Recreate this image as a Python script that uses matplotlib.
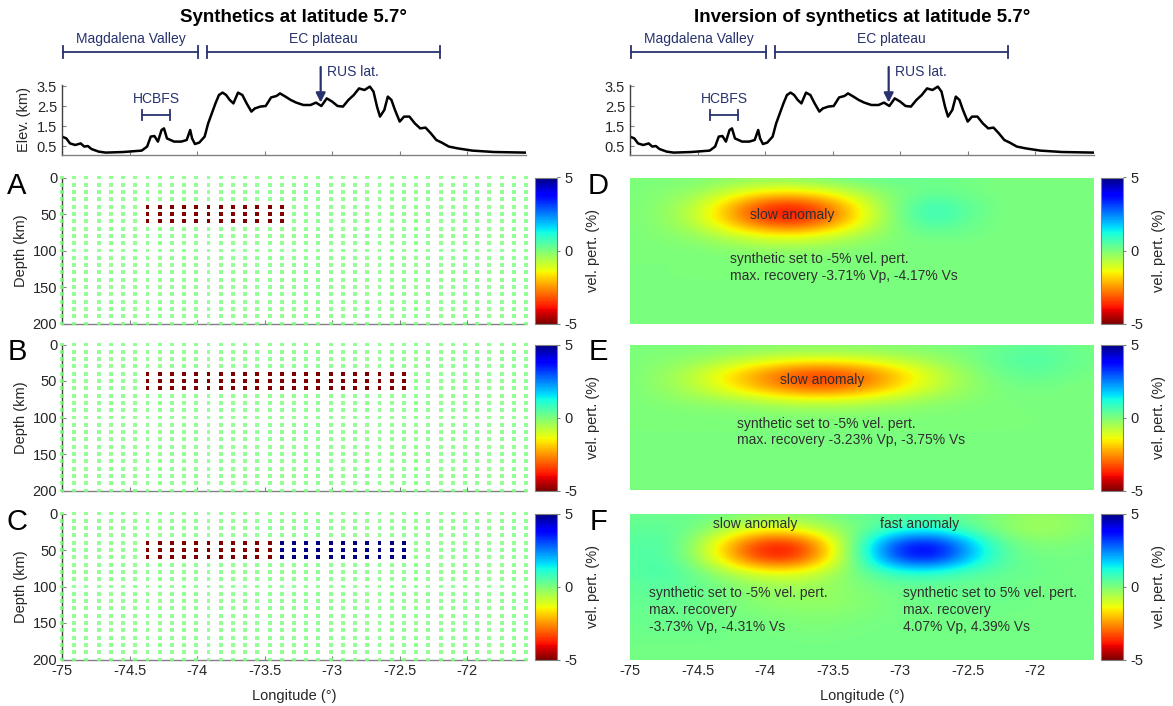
import numpy as np
import matplotlib
matplotlib.use("Agg")
import matplotlib.pyplot as plt
from matplotlib.colors import Normalize
from matplotlib.cm import ScalarMappable

plt.rcParams['font.family'] = ['Liberation Sans', 'DejaVu Sans']
plt.rcParams['font.size'] = 10.5

# ---------------- data ----------------
titles = ["Synthetics at latitude 5.7°", "Inversion of synthetics at latitude 5.7°"]

# topography profile (longitude, elevation in km)
elev_lon = [-75.000, -74.968, -74.941, -74.902, -74.862, -74.835, -74.809, -74.782,
            -74.729, -74.676, -74.543, -74.410, -74.370, -74.343, -74.316, -74.290,
            -74.263, -74.245, -74.223, -74.170, -74.117, -74.077, -74.051, -74.037,
            -74.016, -73.984, -73.944, -73.918, -73.891, -73.864, -73.838, -73.811,
            -73.785, -73.758, -73.731, -73.697, -73.665, -73.633, -73.598, -73.572,
            -73.532, -73.492, -73.452, -73.412, -73.386, -73.346, -73.306, -73.266,
            -73.213, -73.160, -73.120, -73.080, -73.040, -73.000, -72.960, -72.920,
            -72.880, -72.840, -72.801, -72.761, -72.721, -72.694, -72.668, -72.646,
            -72.614, -72.588, -72.561, -72.535, -72.500, -72.468, -72.428, -72.388,
            -72.348, -72.309, -72.269, -72.229, -72.189, -72.136, -72.069, -71.963,
            -71.803, -71.569]
elev_km = [0.97, 0.88, 0.63, 0.55, 0.63, 0.47, 0.50, 0.35,
           0.22, 0.17, 0.20, 0.27, 0.47, 0.97, 1.00, 0.72,
           1.30, 1.38, 0.88, 0.72, 0.72, 0.80, 1.30, 0.88,
           0.60, 0.67, 0.97, 1.63, 2.13, 2.63, 3.05, 3.17,
           3.05, 2.80, 2.63, 3.17, 3.05, 2.63, 2.22, 2.38,
           2.47, 2.50, 2.93, 3.00, 3.13, 2.97, 2.80, 2.67,
           2.55, 2.55, 2.67, 2.50, 2.88, 2.72, 2.50, 2.47,
           2.80, 3.05, 3.38, 3.30, 3.47, 3.22, 2.47, 1.97,
           2.30, 2.97, 2.80, 2.30, 1.72, 1.97, 1.97, 1.63,
           1.38, 1.42, 1.13, 0.80, 0.67, 0.47, 0.38, 0.27,
           0.20, 0.17]

region_names = ["Magdalena Valley", "EC plateau"]
region_start = [-74.99, -73.93]
region_end = [-73.99, -72.20]
hcbfs_start, hcbfs_end = -74.41, -74.20
rus_lon = -73.085

lon_ticks = [-75, -74.5, -74, -73.5, -73, -72.5, -72]
lon_tick_labels = ["-75", "-74.5", "-74", "-73.5", "-73", "-72.5", "-72"]
depth_ticks = [0, 50, 100, 150, 200]
elev_ticks = [0.5, 1.5, 2.5, 3.5]

# synthetic checkerboard nodes (10 km spacing)
syn_lon_step = 0.0904
syn_n_lon = 39
syn_depths = list(range(0, 201, 10))
anomaly_depths = [40, 50, 60]
slow_cols = [(7, 18), (7, 28), (7, 17)]      # node index ranges of -5 % nodes
fast_cols = [None, None, (18, 28)]           # node index ranges of +5 % nodes
synthetic_amp = 5

# recovered models (vel. pert. %) on a coarse grid
rec_lon = [-75, -74.75, -74.5, -74.25, -74, -73.75, -73.5, -73.25, -73, -72.75,
           -72.5, -72.25, -72, -71.75, -71.5]
rec_depth = [0, 20, 40, 60, 80, 100, 120, 140, 160, 180, 200]
rec_D = [
    [0, 0, 0, -0.1, -0.1, 0, 0.2, 0.3, 0.3, 0.2, 0.1, 0, 0, 0, 0],
    [0, -0.1, -0.3, -0.9, -1.4, -1.5, -1.1, -0.4, 0, 0.2, 0.1, 0, 0, 0, 0],
    [0, -0.2, -0.9, -2.3, -3.8, -4.0, -2.9, -1.2, 0.2, 0.9, 0.4, 0, 0, 0, 0],
    [0, -0.2, -0.9, -2.2, -3.6, -3.9, -2.8, -1.2, 0.1, 0.8, 0.3, 0, 0, 0, 0],
    [0, -0.1, -0.3, -0.8, -1.2, -1.3, -0.9, -0.4, 0, 0.1, 0.1, 0, 0, 0, 0],
    [0, 0, 0, -0.1, -0.2, -0.2, -0.1, 0, 0, 0, 0, 0, 0, 0, 0],
    [0] * 15, [0] * 15, [0] * 15, [0] * 15, [0] * 15,
]
rec_E = [
    [0, 0, 0, 0, 0, 0, 0, 0, 0, 0, 0.1, 0.2, 0.3, 0.2, 0],
    [0, -0.1, -0.2, -0.5, -0.8, -1.0, -1.0, -0.9, -0.6, -0.3, 0, 0.4, 0.6, 0.3, 0.1],
    [0, -0.3, -0.9, -1.8, -2.7, -3.5, -3.6, -3.0, -2.0, -1.0, -0.3, 0.2, 0.4, 0.2, 0],
    [0, -0.3, -0.8, -1.6, -2.4, -3.1, -3.2, -2.6, -1.7, -0.9, -0.3, 0, 0.1, 0, 0],
    [0, -0.1, -0.2, -0.3, -0.5, -0.7, -0.7, -0.6, -0.4, -0.2, -0.1, 0, 0, 0, 0],
    [0] * 15, [0] * 15, [0] * 15, [0] * 15, [0] * 15, [0] * 15,
]
rec_F = [
    [0.2, 0.2, 0.2, 0.1, -0.1, -0.1, 0.1, 0.3, 0.4, 0.4, 0.2, -0.1, -0.3, -0.2, 0],
    [0.3, 0.4, 0.1, -0.7, -1.2, -1.1, -0.4, 0.2, 0.8, 0.9, 0.4, -0.2, -0.5, -0.3, 0],
    [0.4, 0.6, -0.4, -2.3, -3.9, -3.7, -1.5, 1.1, 3.5, 3.9, 2.1, 0.4, -0.1, 0, 0.1],
    [0.4, 0.6, -0.4, -2.3, -3.9, -3.7, -1.5, 1.1, 3.5, 3.9, 2.1, 0.5, 0.1, 0.1, 0.1],
    [0.4, 0.7, 0.2, -0.6, -1.2, -1.2, -0.5, 0.3, 0.9, 0.9, 0.5, 0.3, 0.2, 0.1, 0.1],
    [0.3, 0.4, 0.3, 0, -0.3, -0.4, -0.3, 0, 0.2, 0.2, 0.2, 0.2, 0.1, 0.1, 0.1],
    [0.3, 0.3, 0.2, 0, -0.2, -0.3, -0.3, -0.1, 0.1, 0.2, 0.2, 0.2, 0.1, 0.1, 0.1],
    [0.2, 0.2, 0.2, 0.1, 0, -0.1, -0.1, 0, 0.1, 0.1, 0.1, 0.1, 0.1, 0.1, 0.1],
    [0.2, 0.2, 0.2, 0.1, 0.1, 0, 0, 0.1, 0.1, 0.1, 0.1, 0.1, 0.1, 0.1, 0.1],
    [0.1] * 15, [0.1] * 15,
]

# annotations in recovered panels: (text, lon, depth, ha)
notes_D = [("slow anomaly", -73.80, 51, "center"),
           ("synthetic set to -5% vel. pert.\nmax. recovery -3.71% Vp, -4.17% Vs", -74.26, 123, "left")]
notes_E = [("slow anomaly", -73.58, 48, "center"),
           ("synthetic set to -5% vel. pert.\nmax. recovery -3.23% Vp, -3.75% Vs", -74.21, 120, "left")]
notes_F = [("slow anomaly", -74.07, 14, "center"),
           ("fast anomaly", -72.86, 14, "center"),
           ("synthetic set to -5% vel. pert.\nmax. recovery\n-3.73% Vp, -4.31% Vs", -74.86, 132, "left"),
           ("synthetic set to 5% vel. pert.\nmax. recovery\n4.07% Vp, 4.39% Vs", -72.98, 132, "left")]

# ---------------- figure ----------------
W, H = 1173, 706
fig = plt.figure(figsize=(W / 100, H / 100), dpi=100)


def px_axes(x0, y0, x1, y1):
    return fig.add_axes([x0 / W, 1 - y1 / H, (x1 - x0) / W, (y1 - y0) / H])


cmap = plt.get_cmap('jet_r')
norm = Normalize(vmin=-5, vmax=5)
navy = '#27326e'
spine_gray = '#808080'
text_col = '#262626'
XLIM = (-75, -71.565)

col_x = [(62, 526), (630, 1094)]
cbar_x = [(535, 557), (1101, 1123)]
row_tops = [177.5, 344.5, 513.5]
row_h = 146


def style_axes(ax):
    for s in ('top', 'right'):
        ax.spines[s].set_visible(False)
    for s in ('left', 'bottom'):
        ax.spines[s].set_color(spine_gray)
        ax.spines[s].set_linewidth(1.0)
    ax.tick_params(direction='in', length=3, color=spine_gray, labelcolor=text_col)


# titles
fig.text(293 / W, 1 - 18 / H, titles[0], ha='center', va='center', fontsize=13.5, fontweight='bold')
fig.text(862 / W, 1 - 18 / H, titles[1], ha='center', va='center', fontsize=13.5, fontweight='bold')

# elevation panels
for k, (x0, x1) in enumerate(col_x):
    ax = px_axes(x0, 85, x1, 155)
    ax.plot(elev_lon, elev_km, color='black', lw=1.8)
    ax.set_xlim(*XLIM)
    ax.set_ylim(0.05, 3.55)
    ax.set_xticks(lon_ticks)
    ax.set_xticklabels([])
    ax.set_yticks(elev_ticks)
    ax.set_yticklabels([f"{v:.1f}" for v in elev_ticks])
    style_axes(ax)
    ax.spines['left'].set_color('#404040')
    if k == 0:
        ax.set_ylabel("Elev. (km)", color=text_col, labelpad=4)
    # region brackets
    yb = 5.22
    for name, s, e in zip(region_names, region_start, region_end):
        ax.plot([s, e], [yb, yb], color=navy, lw=1.3, clip_on=False)
        ax.plot([s, s], [yb - 0.3, yb + 0.3], color=navy, lw=1.3, clip_on=False)
        ax.plot([e, e], [yb - 0.3, yb + 0.3], color=navy, lw=1.3, clip_on=False)
        ax.text((s + e) / 2, 5.85, name, ha='center', va='center', color=navy, fontsize=10, clip_on=False)
    # HCBFS bracket
    yh = 2.05
    ax.plot([hcbfs_start, hcbfs_end], [yh, yh], color=navy, lw=1.3)
    ax.plot([hcbfs_start, hcbfs_start], [yh - 0.25, yh + 0.25], color=navy, lw=1.3)
    ax.plot([hcbfs_end, hcbfs_end], [yh - 0.25, yh + 0.25], color=navy, lw=1.3)
    ax.text((hcbfs_start + hcbfs_end) / 2, 2.85, "HCBFS", ha='center', va='center', color=navy, fontsize=10)
    # RUS arrow
    tip = np.interp(rus_lon, elev_lon, elev_km) + 0.15
    ax.annotate('', xy=(rus_lon, tip), xytext=(rus_lon, 4.45), annotation_clip=False,
                arrowprops=dict(arrowstyle='-|>', color=navy, lw=1.6, mutation_scale=14,
                                shrinkA=0, shrinkB=0))
    ax.text(rus_lon + 0.045, 4.2, "RUS lat.", ha='left', va='center', color=navy, fontsize=10, clip_on=False)

# synthetic panels A-C
syn_lon = -75 + syn_lon_step * np.arange(syn_n_lon)
LON, DEP = np.meshgrid(syn_lon, syn_depths)
IDX, _ = np.meshgrid(np.arange(syn_n_lon), syn_depths)
in_rows = np.isin(DEP, anomaly_depths)

x0, x1 = col_x[0]
for i, letter in enumerate("ABC"):
    top = row_tops[i]
    ax = px_axes(x0, top, x1, top + row_h)
    vals = np.zeros(LON.shape)
    s0, s1 = slow_cols[i]
    vals[in_rows & (IDX >= s0) & (IDX <= s1)] = -synthetic_amp
    if fast_cols[i] is not None:
        f0, f1 = fast_cols[i]
        vals[in_rows & (IDX >= f0) & (IDX <= f1)] = synthetic_amp
    bg = vals == 0
    ax.scatter(LON[bg], DEP[bg], c=vals[bg], cmap=cmap, norm=norm, marker='s', s=8,
               linewidths=0, clip_on=False, zorder=3, alpha=0.8)
    ax.scatter(LON[~bg], DEP[~bg], c=vals[~bg], cmap=cmap, norm=norm, marker='s', s=8,
               linewidths=0, clip_on=False, zorder=4)
    ax.set_xlim(*XLIM)
    ax.set_ylim(200, 0)
    ax.set_yticks(depth_ticks)
    ax.set_xticks(lon_ticks)
    style_axes(ax)
    ax.spines['left'].set_color('#404040')
    ax.set_ylabel("Depth (km)", color=text_col, labelpad=3)
    if i == 2:
        ax.set_xticklabels(lon_tick_labels)
        ax.set_xlabel("Longitude (°)", color=text_col, labelpad=8)
    else:
        ax.set_xticklabels([])
    fig.text(17 / W, 1 - (top + 8) / H, letter, fontsize=21, ha='center', va='center')

# recovered panels D-F
dl = rec_lon[1] - rec_lon[0]
dd = rec_depth[1] - rec_depth[0]
extent = [rec_lon[0] - dl / 2, rec_lon[-1] + dl / 2, rec_depth[-1] + dd / 2, rec_depth[0] - dd / 2]
x0, x1 = col_x[1]
for i, (letter, grid, notes) in enumerate(zip("DEF", [rec_D, rec_E, rec_F], [notes_D, notes_E, notes_F])):
    top = row_tops[i]
    ax = px_axes(x0, top, x1, top + row_h)
    ax.imshow(np.array(grid, dtype=float), extent=extent, cmap=cmap, norm=norm,
              interpolation='bicubic', interpolation_stage='data', aspect='auto')
    ax.set_xlim(*XLIM)
    ax.set_ylim(200, 0)
    for s in ax.spines.values():
        s.set_visible(False)
    ax.set_yticks([])
    ax.set_xticks(lon_ticks)
    ax.tick_params(direction='in', length=0, labelcolor=text_col, pad=3.5)
    if i == 2:
        ax.set_xticklabels(lon_tick_labels)
        ax.set_xlabel("Longitude (°)", color=text_col, labelpad=8)
    else:
        ax.set_xticklabels([])
    for txt, lo, de, ha in notes:
        ax.text(lo, de, txt, ha=ha, va='center', fontsize=10, color='#303030', linespacing=1.25)
    fig.text(598 / W, 1 - (top + 8) / H, letter, fontsize=21, ha='center', va='center')

# colorbars
for (cx0, cx1) in cbar_x:
    for top in row_tops:
        cax = px_axes(cx0, top, cx1, top + row_h)
        cb = fig.colorbar(ScalarMappable(norm=norm, cmap=cmap), cax=cax, ticks=[-5, 0, 5])
        cb.ax.set_yticklabels(["-5", "0", "5"])
        cb.outline.set_edgecolor(spine_gray)
        cb.outline.set_linewidth(0.8)
        cb.ax.tick_params(length=2, color=spine_gray, labelcolor=text_col, labelsize=10.5)
        cb.set_label("vel. pert. (%)", color=text_col, labelpad=6)

fig.savefig("out.png", dpi=100)
